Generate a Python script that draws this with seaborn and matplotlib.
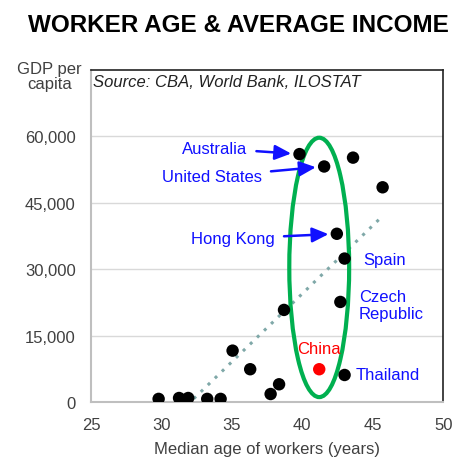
import numpy as np
import pandas as pd
import matplotlib
matplotlib.use("Agg")
import matplotlib.pyplot as plt
from matplotlib.patches import Ellipse
from matplotlib.ticker import FuncFormatter
import seaborn as sns

# Data: median worker age vs GDP per capita
countries = ['', '', '', '', '', '', '', '', '', '', '',
             'China', 'Thailand', 'Czech Republic', 'Spain', 'Hong Kong',
             '', 'Australia', 'United States', '']
age = [29.8, 31.25, 31.45, 31.9, 33.25, 34.2, 37.75, 38.35, 36.3, 35.05, 38.7,
       41.2, 43.0, 42.7, 43.0, 42.45, 45.7, 39.8, 41.55, 43.6]
gdp = [700, 900, 500, 900, 700, 700, 1800, 4000, 7400, 11600, 20800,
       7400, 6100, 22600, 32400, 38000, 48500, 56000, 53200, 55200]

x_ticks = [25, 30, 35, 40, 45, 50]
y_ticks = [0, 15000, 30000, 45000, 60000]

df = pd.DataFrame({'country': countries, 'age': age, 'gdp': gdp})
df['group'] = np.where(df['country'] == 'China', 'China', 'Other')

sns.set_style("white")
plt.rcParams['font.family'] = ['Liberation Sans', 'DejaVu Sans']

fig = plt.figure(figsize=(4.74, 4.64), dpi=100)
ax = fig.add_axes([0.192, 0.1315, 0.743, 0.7155])

# trend line (linear fit across the data, clipped at 0)
sns.regplot(x='age', y='gdp', data=df, scatter=False, ci=None, ax=ax,
            line_kws=dict(color='#7FA8A8', lw=2.2, linestyle=(0, (1, 2.2))))

ax.add_patch(Ellipse((41.2, 30400), 4.25, 58600, fill=False,
                     edgecolor='#00B050', lw=3, zorder=2.5))

sns.scatterplot(x='age', y='gdp', data=df, hue='group',
                palette={'Other': 'black', 'China': '#FF0000'},
                s=80, edgecolor='none', legend=False, ax=ax, zorder=3)

ax.set_xlim(25, 50)
ax.set_ylim(0, 75000)
ax.set_xticks(x_ticks)
ax.set_yticks(y_ticks)
ax.yaxis.set_major_formatter(FuncFormatter(lambda v, p: f"{int(v):,}"))
ax.tick_params(axis='both', length=0, labelsize=12, labelcolor='#404040')
ax.tick_params(axis='y', pad=11)
ax.tick_params(axis='x', pad=10.5)
ax.grid(axis='y', color='#D9D9D9', lw=1)
ax.set_axisbelow(True)
for side in ['left', 'bottom']:
    ax.spines[side].set_color('#BFBFBF')
    ax.spines[side].set_linewidth(1.5)
for side in ['top', 'right']:
    ax.spines[side].set_color('#222222')
    ax.spines[side].set_linewidth(1.2)

ax.set_xlabel('Median age of workers (years)', fontsize=12, color='#404040', labelpad=7)
ax.set_ylabel('')
fig.text(0.104, 0.833, 'GDP per\ncapita', ha='center', va='center',
         fontsize=12, color='#404040', linespacing=1.0)

ax.text(0.005, 0.987, 'Source: CBA, World Bank, ILOSTAT', transform=ax.transAxes,
        ha='left', va='top', fontsize=12, style='italic', color='#222222')

fig.text(0.502, 0.946, 'WORKER AGE & AVERAGE INCOME', ha='center', va='center',
         fontsize=17.5, fontweight='bold', color='black')

blue = '#1010FF'
arrow = dict(arrowstyle='-|>,head_length=0.55,head_width=0.25', color=blue,
             lw=1.8, mutation_scale=18, shrinkA=4, shrinkB=6)

def pt(name):
    r = df[df['country'] == name].iloc[0]
    return (r['age'], r['gdp'])

ax.annotate('Australia', xy=pt('Australia'), xytext=(33.8, 57300),
            ha='center', va='center', fontsize=12, color=blue, arrowprops=arrow)
ax.annotate('United States', xy=pt('United States'), xytext=(33.6, 50900),
            ha='center', va='center', fontsize=12, color=blue, arrowprops=arrow)
ax.annotate('Hong Kong', xy=pt('Hong Kong'), xytext=(35.1, 36900),
            ha='center', va='center', fontsize=12, color=blue, arrowprops=arrow)
ax.text(44.3, 32300, 'Spain', ha='left', va='center', fontsize=12, color=blue)
ax.text(44.0, 21900, 'Czech\nRepublic', ha='left', va='center', fontsize=12,
        color=blue, linespacing=1.1)
ax.text(43.8, 6300, 'Thailand', ha='left', va='center', fontsize=12, color=blue)
ax.text(41.2, 12100, 'China', ha='center', va='center', fontsize=12, color='#FF0000')

fig.savefig('out.png', dpi=100)
